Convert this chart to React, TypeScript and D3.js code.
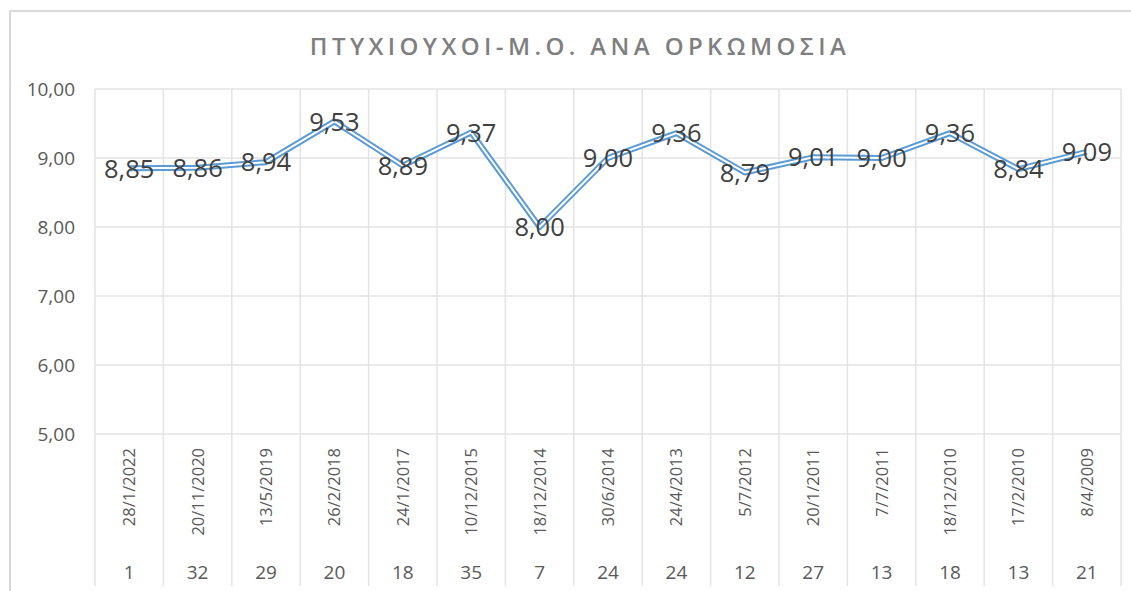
import React from "react";
import * as d3 from "d3";

const dates = ["28/1/2022","20/11/2020","13/5/2019","26/2/2018","24/1/2017","10/12/2015","18/12/2014","30/6/2014","24/4/2013","5/7/2012","20/1/2011","7/7/2011","18/12/2010","17/2/2010","8/4/2009"];
const counts = ["1","32","29","20","18","35","7","24","24","12","27","13","18","13","21"];
const values = [8.85,8.86,8.94,9.53,8.89,9.37,8.00,9.00,9.36,8.79,9.01,9.00,9.36,8.84,9.09];
const yTicks = [5,6,7,8,9,10];
const title = "ΠΤΥΧΙΟΥΧΟΙ-Μ.Ο. ΑΝΑ ΟΡΚΩΜΟΣΙΑ";

const W = 1131, H = 591;
const left = 95, right = 1121, top = 89, bottom = 434, axisBottom = 586;
const font = "'Open Sans', 'DejaVu Sans', sans-serif";

export default function App() {
  const x = d3.scaleBand<number>().domain(d3.range(values.length)).range([left, right]);
  const y = d3.scaleLinear().domain([5, 10]).range([bottom, top]);
  const line = d3.line<number>().x((_, i) => x(i)! + x.bandwidth() / 2).y(d => y(d));
  const fmt = (v: number) => v.toFixed(2).replace(".", ",");
  const bounds = d3.range(values.length + 1).map(i => left + i * x.bandwidth());
  return (
    <svg width={W} height={H} style={{ position: "absolute", left: 0, top: 0, background: "#fff" }} fontFamily={font}>
      <rect x={0} y={0} width={W} height={H} fill="#fff" />
      {/* chart border */}
      <line x1={10} x2={W} y1={11} y2={11} stroke="#d9d9d9" strokeWidth={2} />
      <line x1={10} x2={10} y1={10} y2={H} stroke="#d9d9d9" strokeWidth={2} />
      <text x={580} y={55} textAnchor="middle" fontSize={24} fontWeight={600} fill="#7f7f7f" letterSpacing={4.4}>{title}</text>
      {/* horizontal grid */}
      {yTicks.map(t => (
        <line key={"h" + t} x1={left} x2={right} y1={y(t)} y2={y(t)} stroke="#e3e3e3" strokeWidth={1.5} />
      ))}
      {/* vertical grid + category axis separators */}
      {bounds.map((b, i) => (
        <line key={"v" + i} x1={b} x2={b} y1={top} y2={axisBottom} stroke="#e3e3e3" strokeWidth={1.5} />
      ))}
      {yTicks.map(t => (
        <text key={"yl" + t} x={75} y={y(t)} dy="0.35em" textAnchor="end" fontSize={19} fill="#595959">{fmt(t)}</text>
      ))}
      {dates.map((d, i) => (
        <text key={"d" + i} transform={`translate(${x(i)! + x.bandwidth() / 2 + 6},448) rotate(-90)`} textAnchor="end" fontSize={16.5} fill="#595959">{d}</text>
      ))}
      {counts.map((c, i) => (
        <text key={"c" + i} x={x(i)! + x.bandwidth() / 2} y={572} dy="0.35em" textAnchor="middle" fontSize={19} fill="#595959">{c}</text>
      ))}
      <path d={line(values)!} fill="none" stroke="#5b9bd5" strokeWidth={6} strokeLinejoin="round" />
      <path d={line(values)!} fill="none" stroke="#fff" strokeWidth={2} strokeLinejoin="round" />
      {values.map((v, i) => (
        <text key={"l" + i} x={x(i)! + x.bandwidth() / 2} y={y(v)} dy="0.36em" textAnchor="middle" fontSize={25.5} fill="#404040">{fmt(v)}</text>
      ))}
    </svg>
  );
}
